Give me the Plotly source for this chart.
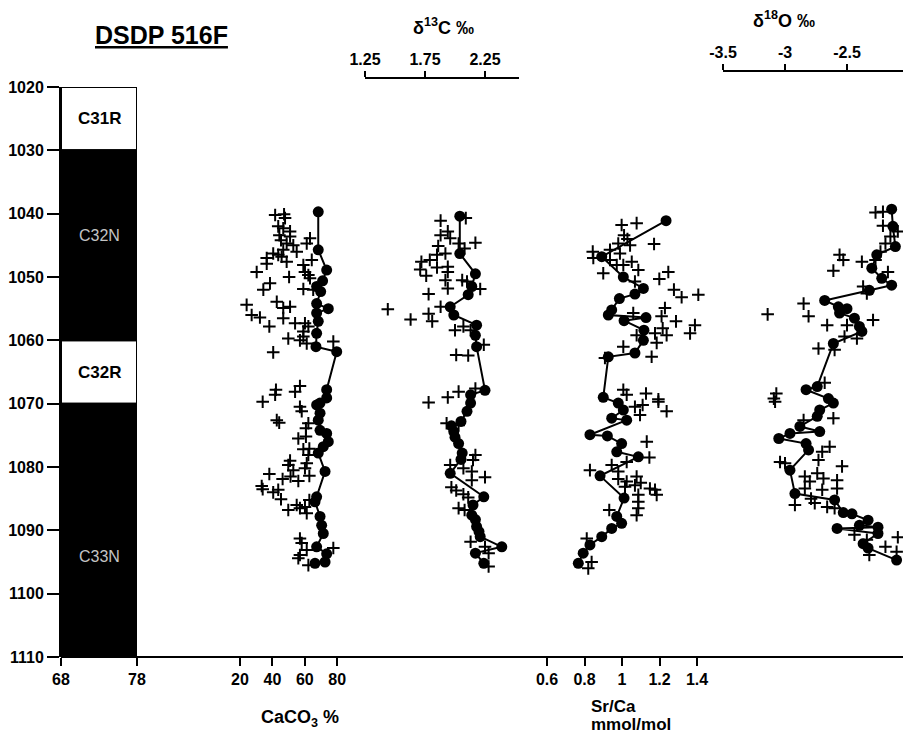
import plotly.graph_objects as go

# ---------------- data ----------------
# Magnetostratigraphy (chron, top depth, bottom depth, polarity)
chron_names = ["C31R", "C32N", "C32R", "C33N"]
chron_top = [1020, 1030, 1060, 1070]
chron_bottom = [1030, 1060, 1070, 1110]
chron_normal = [False, True, False, True]
chron_label_depth = [1025, 1043.4, 1065, 1094.2]

# CaCO3 %
caco3_circ_depth = [1039.7, 1045.7, 1048.9, 1050.6, 1051.5, 1052.3, 1054.2, 1055.0, 1055.7, 1057.0,
                    1058.9, 1061.0, 1061.8, 1067.8, 1069.1, 1069.9, 1070.2, 1071.5, 1072.6, 1074.2,
                    1074.7, 1076.0, 1076.8, 1077.8, 1080.7, 1084.7, 1085.5, 1087.8, 1089.2, 1090.5,
                    1092.6, 1093.7, 1095.0, 1095.2]
caco3_circ_val = [68.3, 68.3, 73.5, 71.0, 67.3, 69.8, 67.3, 74.5, 67.3, 68.3,
                  67.3, 66.9, 79.7, 73.5, 73.5, 69.4, 67.3, 69.4, 68.3, 69.4,
                  73.5, 74.5, 71.4, 68.3, 72.5, 67.3, 66.3, 69.4, 70.4, 71.4,
                  67.3, 73.5, 72.5, 66.3]
caco3_cross_depth = [1040.2, 1040.1, 1040.7, 1042.0, 1042.3, 1042.8, 1043.4, 1043.6, 1044.2, 1044.7,
                     1045.0, 1043.9, 1044.7, 1046.0, 1045.7, 1046.3, 1046.5, 1046.8, 1047.0, 1047.6,
                     1047.9, 1047.3, 1048.1, 1049.2, 1049.2, 1049.7, 1050.2, 1050.0, 1051.0, 1052.0,
                     1051.9, 1052.0, 1053.9, 1054.4, 1054.9, 1054.7, 1056.0, 1056.4, 1056.5, 1057.8,
                     1057.3, 1057.3, 1057.8, 1058.6, 1059.4, 1059.7, 1060.0, 1060.5, 1060.2, 1061.9,
                     1067.2, 1068.1, 1067.8, 1068.6, 1069.7, 1070.5, 1071.2, 1072.6, 1073.0, 1073.1,
                     1073.9, 1075.5, 1075.2, 1077.2, 1077.1, 1078.1, 1079.0, 1079.7, 1079.4, 1080.5,
                     1080.2, 1081.1, 1081.9, 1081.5, 1082.2, 1081.4, 1083.0, 1083.5, 1084.0, 1083.6,
                     1085.1, 1086.8, 1086.0, 1086.5, 1086.3, 1087.3, 1085.2, 1091.3, 1092.0, 1093.1,
                     1092.8, 1094.4, 1093.9, 1095.5]
caco3_cross_val = [41.7, 47.2, 47.8, 43.6, 46.7, 50.9, 44.3, 50.9, 45.3, 48.8,
                   52.9, 63.2, 61.2, 55.0, 46.7, 40.5, 43.6, 45.7, 36.5, 48.8,
                   36.5, 64.3, 59.1, 30.3, 60.1, 62.2, 63.2, 50.3, 38.5, 34.4,
                   59.1, 65.2, 42.7, 24.1, 46.7, 50.9, 27.2, 32.3, 46.7, 38.1,
                   54.0, 60.1, 62.2, 59.1, 59.1, 49.8, 57.0, 61.2, 77.6, 40.5,
                   57.0, 54.0, 42.2, 41.7, 34.0, 57.0, 58.1, 42.7, 44.2, 62.2,
                   60.7, 56.0, 60.7, 59.1, 62.8, 62.2, 50.9, 49.8, 61.2, 52.9,
                   60.1, 38.1, 46.3, 51.2, 56.0, 62.8, 33.4, 34.0, 40.5, 43.6,
                   45.3, 49.8, 55.0, 57.0, 60.1, 61.2, 62.8, 57.0, 58.1, 61.2,
                   77.6, 56.0, 57.0, 62.2]

# delta 13C permil
d13c_circ_depth = [1040.4, 1046.3, 1049.5, 1051.5, 1052.8, 1054.7, 1056.0, 1057.6, 1059.2, 1061.0,
                   1067.9, 1068.6, 1069.9, 1071.2, 1072.8, 1073.5, 1074.4, 1075.3, 1076.3, 1077.8,
                   1078.8, 1081.0, 1084.7, 1086.0, 1087.6, 1088.3, 1089.4, 1090.2, 1091.0, 1092.6,
                   1093.6, 1095.2]
d13c_circ_val = [2.04, 2.04, 2.17, 2.14, 2.11, 1.96, 1.99, 2.18, 2.17, 2.18,
                 2.25, 2.13, 2.13, 2.10, 2.05, 1.97, 1.99, 2.00, 2.03, 2.06,
                 2.05, 1.96, 2.24, 2.15, 2.14, 2.17, 2.18, 2.20, 2.21, 2.39,
                 2.17, 2.24]
d13c_cross_depth = [1041.1, 1040.7, 1043.4, 1042.8, 1043.9, 1044.7, 1044.6, 1045.5, 1045.1, 1046.5,
                    1046.3, 1047.3, 1047.6, 1048.8, 1048.5, 1048.4, 1049.2, 1049.8, 1050.5, 1050.5,
                    1050.7, 1051.8, 1051.9, 1052.7, 1054.7, 1055.1, 1055.8, 1056.7, 1057.0, 1058.4,
                    1057.8, 1058.4, 1060.7, 1062.3, 1062.4, 1067.6, 1068.1, 1069.0, 1069.8, 1073.1,
                    1073.4, 1078.1, 1078.9, 1079.7, 1080.2, 1080.7, 1081.6, 1082.1, 1083.2, 1083.7,
                    1084.3, 1084.8, 1086.5, 1086.8, 1091.8, 1092.6, 1093.6, 1095.7]
d13c_cross_val = [1.88, 2.09, 1.88, 1.94, 1.96, 2.03, 2.17, 2.08, 1.86, 1.85,
                  1.92, 1.79, 1.72, 1.71, 1.85, 1.94, 1.94, 1.76, 1.92, 2.06,
                  2.10, 1.94, 2.21, 1.78, 1.88, 1.44, 1.78, 1.63, 1.81, 2.00,
                  2.07, 2.13, 2.24, 2.01, 2.11, 2.17, 2.03, 1.94, 1.78, 1.93,
                  2.03, 2.17, 2.15, 1.96, 2.07, 2.14, 2.25, 2.14, 1.97, 2.01,
                  2.07, 2.11, 2.03, 2.08, 2.13, 2.25, 2.28, 2.28]

# Sr/Ca mmol/mol
srca_circ_depth = [1041.1, 1046.8, 1050.0, 1051.8, 1052.7, 1053.4, 1055.2, 1056.0, 1056.4, 1056.9,
                   1058.4, 1060.0, 1062.0, 1062.6, 1069.0, 1069.9, 1071.0, 1072.3, 1072.6, 1074.9,
                   1075.1, 1076.3, 1077.6, 1078.4, 1081.4, 1084.9, 1087.8, 1088.9, 1089.7, 1091.0,
                   1092.3, 1093.6, 1095.2]
srca_circ_val = [1.235, 0.892, 1.007, 1.114, 1.069, 0.986, 0.945, 0.927, 1.128, 1.011,
                 1.117, 1.114, 1.069, 0.927, 0.900, 0.980, 1.007, 0.945, 1.025, 0.829,
                 0.922, 0.998, 0.972, 1.087, 0.883, 1.011, 0.972, 0.998, 0.945, 0.892,
                 0.829, 0.793, 0.767]
srca_cross_depth = [1041.8, 1041.5, 1043.4, 1044.0, 1044.7, 1045.0, 1045.7, 1046.0, 1047.0, 1047.3,
                    1046.3, 1044.8, 1048.1, 1048.1, 1047.6, 1048.9, 1049.4, 1050.7, 1050.3, 1049.2,
                    1052.0, 1053.2, 1052.8, 1055.7, 1054.9, 1056.2, 1057.0, 1058.1, 1059.2, 1058.9,
                    1059.2, 1060.4, 1057.6, 1058.9, 1061.0, 1062.6, 1062.8, 1067.8, 1068.6, 1068.4,
                    1069.3, 1071.2, 1070.5, 1070.2, 1069.7, 1071.8, 1076.0, 1078.5, 1080.5, 1079.7,
                    1079.2, 1080.7, 1081.9, 1082.3, 1083.1, 1081.5, 1082.5, 1082.9, 1083.4, 1083.6,
                    1084.4, 1084.4, 1085.5, 1086.5, 1087.6, 1086.8, 1091.3, 1095.0, 1096.0]
srca_cross_val = [0.998, 1.078, 1.011, 1.029, 0.980, 1.043, 0.936, 0.844, 0.847, 0.936,
                  0.989, 1.171, 0.972, 1.007, 1.052, 1.087, 0.900, 1.069, 1.199, 1.247,
                  1.277, 1.318, 1.407, 1.060, 1.229, 1.211, 1.288, 1.217, 1.238, 1.176,
                  1.078, 1.185, 1.389, 1.363, 1.007, 1.158, 0.909, 1.007, 1.025, 1.128,
                  1.194, 1.238, 1.069, 1.110, 1.194, 1.096, 1.132, 1.146, 0.829, 0.945,
                  1.025, 0.980, 0.980, 1.025, 1.016, 1.078, 1.100, 1.069, 1.149, 1.176,
                  1.185, 1.087, 1.087, 1.087, 1.078, 0.932, 0.812, 0.838, 0.820]

# delta 18O permil
d18o_circ_depth = [1039.3, 1042.0, 1045.2, 1046.5, 1048.6, 1050.2, 1051.3, 1052.1, 1053.7, 1054.7,
                   1055.0, 1055.7, 1056.5, 1057.8, 1058.6, 1060.5, 1067.3, 1067.8, 1069.2, 1069.9,
                   1071.0, 1072.0, 1073.6, 1074.4, 1074.7, 1075.5, 1076.3, 1077.3, 1080.5, 1084.2,
                   1085.2, 1087.2, 1087.4, 1088.4, 1089.2, 1089.5, 1089.7, 1090.5, 1092.1, 1092.8,
                   1094.7]
d18o_circ_val = [-2.14, -2.13, -2.11, -2.26, -2.30, -2.22, -2.14, -2.32, -2.68, -2.57,
                 -2.50, -2.56, -2.44, -2.40, -2.38, -2.61, -2.74, -2.83, -2.65, -2.61,
                 -2.72, -2.74, -2.88, -2.72, -2.96, -3.05, -2.83, -2.81, -2.96, -2.92,
                 -2.60, -2.53, -2.46, -2.33, -2.40, -2.25, -2.58, -2.25, -2.37, -2.33,
                 -2.10]
d18o_cross_depth = [1039.8, 1039.7, 1041.9, 1042.8, 1043.6, 1044.7, 1046.0, 1046.5, 1047.3, 1047.6,
                    1047.3, 1049.0, 1049.2, 1051.5, 1052.6, 1054.2, 1056.2, 1055.9, 1057.6, 1057.6,
                    1056.8, 1059.4, 1059.7, 1061.3, 1061.5, 1068.4, 1069.2, 1066.7, 1072.6, 1072.3,
                    1069.7, 1076.8, 1077.6, 1078.9, 1079.2, 1079.4, 1079.9, 1081.5, 1081.0, 1081.8,
                    1082.1, 1082.3, 1083.4, 1083.6, 1083.4, 1085.0, 1085.7, 1086.0, 1086.3, 1086.5,
                    1090.7, 1091.5, 1092.6, 1091.1, 1093.4, 1093.9]
d18o_cross_val = [-2.27, -2.21, -2.21, -2.09, -2.15, -2.19, -2.23, -2.56, -2.53, -2.38,
                  -2.27, -2.61, -2.17, -2.37, -2.34, -2.85, -2.81, -3.14, -2.66, -2.50,
                  -2.29, -2.52, -2.42, -2.73, -2.60, -3.07, -3.09, -2.68, -2.85, -2.61,
                  -3.08, -2.64, -2.70, -2.73, -3.04, -3.00, -2.54, -2.84, -2.74, -2.69,
                  -2.58, -2.80, -2.84, -2.70, -2.58, -2.79, -2.76, -2.92, -2.66, -2.60,
                  -2.44, -2.34, -2.19, -2.09, -2.10, -2.32]

# tick labels
depth_ticks = [1020, 1030, 1040, 1050, 1060, 1070, 1080, 1090, 1100, 1110]
mag_ticks = [68, 78]
caco3_ticks = [20, 40, 60, 80]
d13c_ticks = [1.25, 1.75, 2.25]
d13c_ticktext = ["1.25", "1.75", "2.25"]
srca_ticks = [0.6, 0.8, 1.0, 1.2, 1.4]
srca_ticktext = ["0.6", "0.8", "1", "1.2", "1.4"]
d18o_ticks = [-3.5, -3.0, -2.5]
d18o_ticktext = ["-3.5", "-3", "-2.5"]

# ---------------- layout helpers ----------------
W, H = 903, 740
FONT = "Liberation Sans, Arial, Helvetica, sans-serif"


def px(x):
    return x / W


def py(y):
    return 1 - y / H


fig = go.Figure()

# magnetostratigraphy column
for polarity, fill in [(False, "white"), (True, "black")]:
    tops = [t for t, n in zip(chron_top, chron_normal) if n == polarity]
    thick = [b - t for t, b, n in zip(chron_top, chron_bottom, chron_normal) if n == polarity]
    fig.add_trace(go.Bar(
        x=[73] * len(tops), y=thick, base=tops, width=10,
        marker=dict(color=fill, line=dict(color="black", width=2)),
        xaxis="x", yaxis="y", hoverinfo="skip", cliponaxis=False))

for name, d, n in zip(chron_names, chron_label_depth, chron_normal):
    fig.add_annotation(x=73, y=d, xref="x", yref="y", text=name, showarrow=False,
                       xanchor="center", yanchor="middle",
                       font=dict(family=FONT, size=16 if n else 17,
                                 color="#c4c4c4" if n else "black",
                                 weight="normal" if n else "bold"))

cross_marker = dict(symbol="cross-thin", size=9, color="black", line=dict(width=2, color="black"))
circ_marker = dict(symbol="circle", size=11, color="black")


def add_panel(xa, cd, cv, xd, xv):
    fig.add_trace(go.Scatter(x=xv, y=xd, mode="markers", marker=cross_marker,
                             xaxis=xa, yaxis="y", hoverinfo="skip"))
    fig.add_trace(go.Scatter(x=cv, y=cd, mode="lines+markers", marker=circ_marker,
                             line=dict(color="black", width=2),
                             xaxis=xa, yaxis="y", hoverinfo="skip"))


add_panel("x2", caco3_circ_depth, caco3_circ_val, caco3_cross_depth, caco3_cross_val)
add_panel("x3", d13c_circ_depth, d13c_circ_val, d13c_cross_depth, d13c_cross_val)
add_panel("x4", srca_circ_depth, srca_circ_val, srca_cross_depth, srca_cross_val)
add_panel("x5", d18o_circ_depth, d18o_circ_val, d18o_cross_depth, d18o_cross_val)

tickfont = dict(family=FONT, size=16, color="black", weight="bold")
common = dict(showgrid=False, zeroline=False, ticks="outside", tickcolor="black",
              tickwidth=2, tickfont=tickfont, fixedrange=True, automargin=False)

Y0, Y1 = 657, 87
fig.update_layout(
    template="none",
    width=W, height=H, margin=dict(l=0, r=0, t=0, b=0, pad=0, autoexpand=False),
    paper_bgcolor="white", plot_bgcolor="rgba(0,0,0,0)", showlegend=False,
    barmode="overlay",
    yaxis=dict(domain=[py(Y0), py(Y1)], range=[1110, 1020], tickvals=depth_ticks,
               anchor="x", showline=True, linecolor="black", linewidth=2, ticklen=12,
               **common),
    xaxis=dict(domain=[px(61), px(137)], range=[68, 78], tickvals=mag_ticks,
               anchor="y", ticklen=8, showline=False, **common),
    xaxis2=dict(domain=[px(207.6), px(207.6 + 95 * 1.62)], range=[0, 95], tickvals=caco3_ticks,
                anchor="y", ticklen=8, showline=False, **common),
    xaxis3=dict(domain=[px(365), px(519)], range=[1.25, 1.25 + 154 / 120], tickvals=d13c_ticks,
                ticktext=d13c_ticktext, side="top", anchor="free", position=py(78),
                ticklen=6, showline=True, linecolor="black", linewidth=2, **common),
    xaxis4=dict(domain=[px(622 - 0.5 * 187.5), px(622 + 0.52 * 187.5)], range=[0.5, 1.52],
                tickvals=srca_ticks, ticktext=srca_ticktext, anchor="y", ticklen=8,
                showline=False, **common),
    xaxis5=dict(domain=[px(723), 1.0], range=[-3.5, -3.5 + 180 / 124], tickvals=d18o_ticks,
                ticktext=d18o_ticktext, side="top", anchor="free", position=py(71),
                ticklen=6, showline=True, linecolor="black", linewidth=2, **common),
)

# baseline across all panels
fig.add_shape(type="line", xref="paper", yref="paper", x0=px(61), x1=1.0,
              y0=py(Y0), y1=py(Y0), line=dict(color="black", width=2))

# titles
label_font = dict(family=FONT, size=17, color="black", weight="bold")
titles = [
    (161, 35, "<u>DSDP 516F</u>", dict(family=FONT, size=25, color="black", weight="bold"), "center"),
    (443, 27, "δ<sup>13</sup>C ‰", dict(family=FONT, size=18, color="black", weight="bold"), "center"),
    (784, 20, "δ<sup>18</sup>O ‰", dict(family=FONT, size=18, color="black", weight="bold"), "center"),
    (300, 718, "CaCO<sub>3</sub> %", dict(family=FONT, size=18, color="black", weight="bold"), "center"),
    (589, 706, "Sr/Ca", label_font, "left"),
    (589, 724, "mmol/mol", label_font, "left"),
]
for tx, ty, text, f, xa in titles:
    fig.add_annotation(xref="paper", yref="paper", x=px(tx), y=py(ty), text=text,
                       xanchor=xa, yanchor="middle", align="left",
                       showarrow=False, font=f)

fig.write_html("out.html")
